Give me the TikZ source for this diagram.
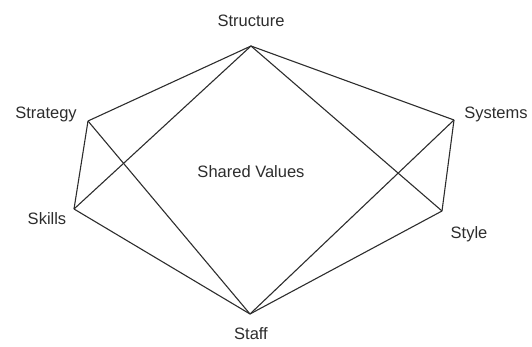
\documentclass[tikz,border=0pt]{standalone}
\usepackage{fontspec}
\setmainfont{Liberation Sans}
\usetikzlibrary{positioning}
\definecolor{ink}{RGB}{45,45,45}

\begin{document}
\begin{tikzpicture}[x=1pt,y=-1pt,
    lbl/.style={font=\fontsize{16.5}{19}\selectfont,text=ink,inner sep=0pt},
    edge/.style={draw=ink,line width=1.1pt}]
    \useasboundingbox (0,0) rectangle (532,347);
    % corners of the hexagon
    \coordinate (structure) at (251,46);
    \coordinate (strategy)  at (88,121);
    \coordinate (systems)   at (454,120);
    \coordinate (skills)    at (74,209);
    \coordinate (style)     at (442,211);
    \coordinate (staff)     at (250,314);
    % names
    \node[lbl] (lStructure) at (251,21)  {Structure};
    \node[lbl] (lStrategy)  at (46,114)  {Strategy};
    \node[lbl] (lSystems)   at (496,114) {Systems};
    \node[lbl] (lSkills)    at (47,219)  {Skills};
    \node[lbl] (lStyle)     at (469,234) {Style};
    \node[lbl] (lStaff)     at (251,334) {Staff};
    \node[lbl] (lShared)    at (251,172) {Shared Values};
    % links
    \foreach \a/\b in {structure/strategy,structure/skills,structure/systems,
      structure/style,strategy/skills,strategy/staff,systems/style,
      systems/staff,skills/staff,style/staff}
      \draw[edge] (\a) -- (\b);
\end{tikzpicture}
\end{document}
